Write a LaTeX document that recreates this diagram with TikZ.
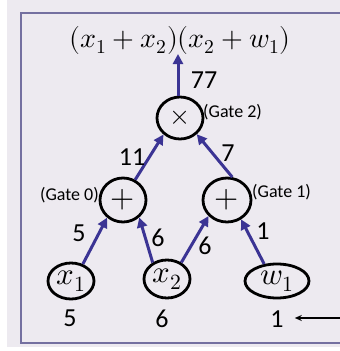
\documentclass[tikz,border=0pt]{standalone}
\usepackage{fontspec}
\usepackage{unicode-math}
\setmainfont{Carlito}
\setmathfont{Latin Modern Math}
\usetikzlibrary{arrows.meta,shapes.geometric}
\definecolor{bgc}{HTML}{EDEAF0}
\definecolor{framec}{HTML}{7470A0}
\definecolor{edgec}{HTML}{3B3494}
\tikzset{
  gate/.style={ellipse,draw=black,line width=2.8pt,inner sep=0pt,font=\fontsize{31}{34}\selectfont},
  edge/.style={draw=edgec,line width=3pt,-{Triangle[length=10pt,width=10pt]}},
  lab/.style={font=\fontsize{26}{30}\selectfont,inner sep=0pt},
  glab/.style={font=\fontsize{18}{21}\selectfont,inner sep=0pt},
}
\begin{document}
\begin{tikzpicture}[x=1pt,y=-1pt]
\useasboundingbox (0,0) rectangle (340,351);
\fill[white] (0,0) rectangle (340,351);
\fill[bgc] (7,0) rectangle (340,347);
\draw[framec,line width=1.6pt] (340,13) -- (21,13) -- (21,343) -- (340,343);

\node[inner sep=0pt] (title) at (180,40) {\fontsize{28}{34}\selectfont$(x_1+x_2)(x_2+w_1)$};

\node[gate,minimum width=46pt,minimum height=42pt,font=\fontsize{27}{30}\selectfont] (times) at (180,118) {$\times$};
\node[gate,minimum width=46pt,minimum height=44pt] (g0) at (123,200) {$+$};
\node[gate,minimum width=48pt,minimum height=44pt] (g1) at (227,200) {$+$};
\node[gate,minimum width=46pt,minimum height=36pt] (x1) at (71,281) {$x_1$};
\node[gate,minimum width=46pt,minimum height=38pt] (x2) at (167,279) {$x_2$};
\node[gate,minimum width=64pt,minimum height=34pt] (w1) at (277,281) {$w_1$};

\draw[edge] (x1.55) -- (g0.228);
\draw[edge] (x2.131) -- (g0.313);
\draw[edge] (x2.49) -- (g1.221);
\draw[edge] (w1.127) -- (g1.306);
\draw[edge] (g0.59) -- (times.225);
\draw[edge] (g1.77) -- (times.316);
\coordinate (top) at (178,54);
\draw[edge] (times.north -| top) -- (top);

\node[lab] (l77) at (204,80) {77};
\node[lab] (l11) at (132,157) {11};
\node[lab] (l7) at (228,153) {7};
\node[lab] (l5) at (79,233) {5};
\node[lab] (l6a) at (158,238) {6};
\node[lab] (l6b) at (205,246) {6};
\node[lab] (l1) at (263,231) {1};

\node[lab] (v5) at (70,318) {5};
\node[lab] (v6) at (162,319) {6};
\node[lab] (v1) at (277,319) {1};

\node[glab,anchor=west] (gt2) at (203,112) {(Gate 2)};
\node[glab,anchor=east] (gt0) at (99,195) {(Gate 0)};
\node[glab,anchor=west] (gt1) at (252,192) {(Gate 1)};

\coordinate (rin) at (340,318);
\draw[line width=1.3pt,-{Stealth[length=7pt,width=6pt]}] (rin) -- ([xshift=11pt]v1.east |- rin);
\end{tikzpicture}
\end{document}
